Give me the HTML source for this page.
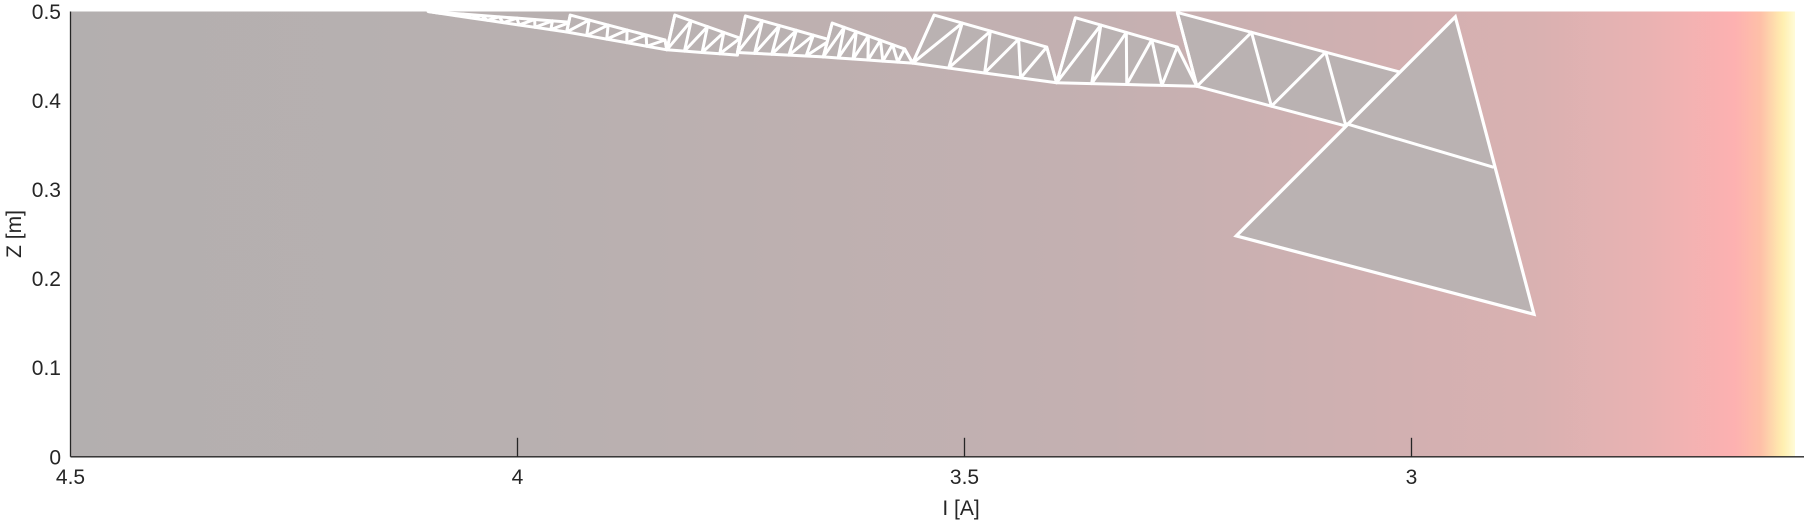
<!DOCTYPE html>
<html><head><meta charset="utf-8">
<style>
html,body{margin:0;padding:0;background:#fff;}
svg{display:block;font-family:"Liberation Sans",sans-serif;}
</style></head>
<body>
<svg id="chart" width="1804" height="523" viewBox="0 0 1804 523" xmlns="http://www.w3.org/2000/svg">
<defs>
<linearGradient id="bg" x1="0" y1="0" x2="1" y2="0">
<stop offset="0" stop-color="#b3afaf"/>
<stop offset="0.3" stop-color="#b9b0b0"/>
<stop offset="0.6" stop-color="#c4b0b1"/>
<stop offset="0.75" stop-color="#d0b0b1"/>
<stop offset="0.849" stop-color="#d9b1b1"/>
<stop offset="0.916" stop-color="#eab2b2"/>
<stop offset="0.965" stop-color="#fdb1b1"/>
<stop offset="0.980" stop-color="#fec0a8"/>
<stop offset="0.993" stop-color="#ffefb0"/>
<stop offset="1" stop-color="#fffbd8"/>
</linearGradient>
</defs>
<rect x="70.5" y="11.5" width="1724.5" height="445.3" fill="url(#bg)"/>
<g id="mesh"></g>
<g id="axes"></g>
<text x="961" y="515" font-size="21" text-anchor="middle" fill="#262626">I [A]</text>
<text transform="translate(21,234) rotate(-90)" font-size="21" text-anchor="middle" fill="#262626">Z [m]</text>
</svg>
<script>
// strips: top start/end, bottom start/end (I,Z), cell count
const stripTopI0 = [4.100, 3.941, 3.824, 3.745, 3.648, 3.534, 3.376, 3.262];
const stripTopZ0 = [0.500, 0.496, 0.496, 0.495, 0.487, 0.496, 0.493, 0.499];
const stripTopI1 = [3.941, 3.835, 3.751, 3.650, 3.567, 3.408, 3.262, 3.013];
const stripTopZ1 = [0.488, 0.468, 0.470, 0.468, 0.458, 0.460, 0.460, 0.432];
const stripBotI0 = [4.087, 3.945, 3.833, 3.754, 3.658, 3.558, 3.397, 3.240];
const stripBotZ0 = [0.498, 0.477, 0.457, 0.454, 0.449, 0.442, 0.420, 0.416];
const stripBotI1 = [3.945, 3.833, 3.754, 3.658, 3.558, 3.397, 3.240, 2.990];
const stripBotZ1 = [0.477, 0.457, 0.451, 0.449, 0.442, 0.420, 0.416, 0.349];
const stripCells = [8, 5, 4, 5, 6, 4, 4, 3];
// big triangle: apex, left, right; crossbar
const triI = [2.951, 3.196, 2.863];
const triZ = [0.494, 0.248, 0.160];
const barI = [3.073, 2.908];
const barZ = [0.374, 0.325];
const xTicks = [4.5, 4, 3.5, 3];
const xTickLabels = ["4.5", "4", "3.5", "3"];
const yTicks = [0, 0.1, 0.2, 0.3, 0.4, 0.5];
const yTickLabels = ["0", "0.1", "0.2", "0.3", "0.4", "0.5"];

const X0 = 70.5, PX_PER_I = 894, Y0 = 456.8, PX_PER_Z = 890.6;
function xs(i){ return X0 + (4.5 - i) * PX_PER_I; }
function ys(z){ return Y0 - z * PX_PER_Z; }
const NS = "http://www.w3.org/2000/svg";
const mesh = document.getElementById('mesh');
const axes = document.getElementById('axes');
function mk(tag, attrs, parent){
  const e = document.createElementNS(NS, tag);
  for (const k in attrs) e.setAttribute(k, attrs[k]);
  parent.appendChild(e); return e;
}
const FACE = "#bab2b2";
for (let s = 0; s < stripCells.length; s++) {
  const n = stripCells[s];
  const tp = [], bp = [];
  for (let k = 0; k <= n; k++) {
    const f = k / n;
    tp.push([xs(stripTopI0[s] + (stripTopI1[s]-stripTopI0[s])*f), ys(stripTopZ0[s] + (stripTopZ1[s]-stripTopZ0[s])*f)]);
    bp.push([xs(stripBotI0[s] + (stripBotI1[s]-stripBotI0[s])*f), ys(stripBotZ0[s] + (stripBotZ1[s]-stripBotZ0[s])*f)]);
  }
  const poly = tp.concat(bp.slice().reverse()).map(p => p.join(',')).join(' ');
  const face = mk('polygon', {points: poly, fill: FACE, stroke: '#fff', 'stroke-width': 3, 'stroke-linejoin': 'round'}, mesh);
  
  
  const zz = [];
  for (let k = 0; k <= n; k++) { zz.push(tp[k]); zz.push(bp[k]); }
  const zl = mk('polyline', {points: zz.map(p => p.join(',')).join(' '), fill: 'none', stroke: '#fff', 'stroke-width': 3, 'stroke-linejoin': 'round'}, mesh);
  
  
}
const tri = mk('polygon', {points: triI.map((v,i) => xs(v) + ',' + ys(triZ[i])).join(' '), fill: FACE, stroke: '#fff', 'stroke-width': 3.2, 'stroke-linejoin': 'miter'}, mesh);


const bar = mk('line', {x1: xs(barI[0]), y1: ys(barZ[0]), x2: xs(barI[1]), y2: ys(barZ[1]), stroke: '#fff', 'stroke-width': 3}, mesh);


const lastDiag = mk('line', {x1: xs(triI[0]), y1: ys(triZ[0]), x2: xs(triI[1]), y2: ys(triZ[1]), stroke: '#fff', 'stroke-width': 3}, mesh);



// axes
const xl = mk('line', {x1: X0, y1: Y0, x2: 1804, y2: Y0, stroke: '#262626', 'stroke-width': 1.3}, axes);


const yl = mk('line', {x1: X0, y1: 11.5, x2: X0, y2: Y0, stroke: '#262626', 'stroke-width': 1.3}, axes);


xTicks.forEach((v, i) => {
  const x = xs(v);
  if (i > 0) {
    const t = mk('line', {x1: x, y1: Y0, x2: x, y2: Y0 - 19, stroke: '#262626', 'stroke-width': 1.3}, axes);
    
    
  }
  const lb = mk('text', {x: x, y: Y0 + 27, 'font-size': 21, 'text-anchor': 'middle', fill: '#262626'}, axes);
  lb.textContent = xTickLabels[i];
  
  
});
yTicks.forEach((v, i) => {
  const lb = mk('text', {x: 61, y: ys(v) + 7.5, 'font-size': 21, 'text-anchor': 'end', fill: '#262626'}, axes);
  lb.textContent = yTickLabels[i];
  
  
});
</script>
</body></html>
